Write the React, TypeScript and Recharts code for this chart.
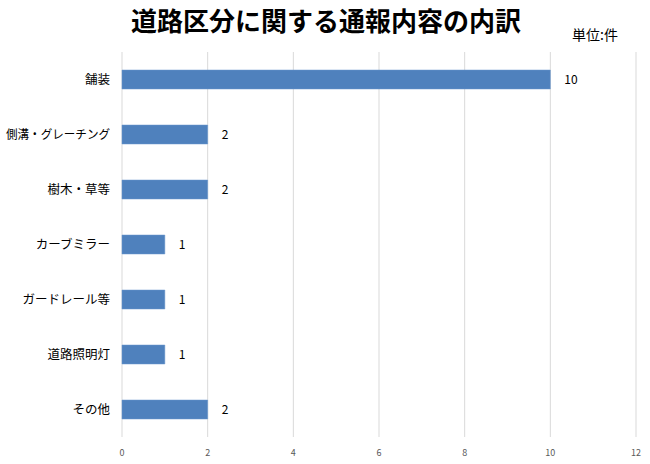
import * as React from "react";
import { BarChart, Bar, XAxis, YAxis, CartesianGrid, LabelList } from "recharts";

const categories = [
  "舗装",
  "側溝・グレーチング",
  "樹木・草等",
  "カーブミラー",
  "ガードレール等",
  "道路照明灯",
  "その他",
];
const counts = [10, 2, 2, 1, 1, 1, 2];
const xTicks = [0, 2, 4, 6, 8, 10, 12];

const FONT = '"Noto Sans CJK JP", "Noto Sans", sans-serif';

// category label, squeezed when the full-width glyphs would run off the left edge
function CategoryTick(props: any) {
  const { x, y, payload } = props;
  const label = String(payload.value);
  const natural = label.length * 12.5;
  const fit = Math.min(natural, 104);
  return (
    <text
      x={x}
      y={y}
      dy="0.36em"
      textAnchor="end"
      fontSize={12.5}
      fill="#000"
      fontFamily={FONT}
      textLength={natural > fit ? fit : undefined}
      lengthAdjust="spacingAndGlyphs"
    >
      {label}
    </text>
  );
}

export default function App() {
  const data = categories.map((name, i) => ({ name, value: counts[i] }));

  return (
    <div
      style={{
        position: "absolute",
        left: 0,
        top: 0,
        width: 650,
        height: 464,
        background: "#fff",
        fontFamily: FONT,
      }}
    >
      <div
        style={{
          position: "absolute",
          left: 0,
          width: 652,
          top: 4,
          textAlign: "center",
          fontSize: 26,
          fontWeight: 700,
          color: "#000",
          lineHeight: "32px",
          whiteSpace: "nowrap",
        }}
      >
        道路区分に関する通報内容の内訳
      </div>
      <div
        style={{
          position: "absolute",
          left: 572,
          top: 25,
          fontSize: 14,
          color: "#000",
          lineHeight: "18px",
          whiteSpace: "nowrap",
        }}
      >
        単位:件
      </div>
      <BarChart
        width={650}
        height={464}
        data={data}
        layout="vertical"
        margin={{ top: 52, right: 14, left: 0, bottom: 7 }}
        barSize={19}
      >
        <CartesianGrid horizontal={false} stroke="#d9d9d9" />
        <XAxis
          type="number"
          domain={[0, 12]}
          ticks={xTicks}
          axisLine={false}
          tickLine={false}
          height={20}
          tickMargin={7}
          tick={{ fontSize: 9, fill: "#595959", fontFamily: FONT }}
        />
        <YAxis
          type="category"
          dataKey="name"
          width={122}
          axisLine={false}
          tickLine={false}
          tickMargin={6}
          interval={0}
          tick={<CategoryTick />}
        />
        <Bar
          dataKey="value"
          fill="#4f81bd"
          stroke="#6a96cc"
          strokeWidth={0.5}
          isAnimationActive={false}
        >
          <LabelList
            dataKey="value"
            position="right"
            offset={14}
            style={{ fontSize: 12, fill: "#000", fontFamily: FONT }}
          />
        </Bar>
      </BarChart>
    </div>
  );
}
